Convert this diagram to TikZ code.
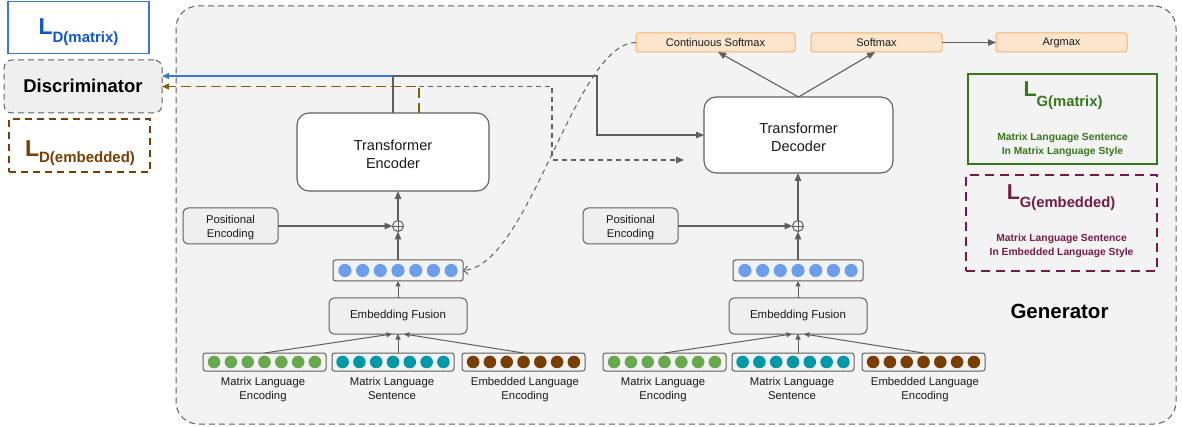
\documentclass[tikz,border=0pt]{standalone}
\usepackage{fontspec}
\setmainfont{Liberation Sans}
\usetikzlibrary{arrows.meta,calc}
\definecolor{lg}{HTML}{5F5F5F}
\definecolor{bgg}{HTML}{F3F3F3}
\definecolor{boxg}{HTML}{EFEFEF}
\definecolor{orf}{HTML}{FCE5CD}
\definecolor{orb}{HTML}{F6B26B}
\definecolor{blueT}{HTML}{1155CC}
\definecolor{blueB}{HTML}{3C78D8}
\definecolor{brownC}{HTML}{783F04}
\definecolor{oliveC}{HTML}{7F6000}
\definecolor{greenC}{HTML}{38761D}
\definecolor{purpC}{HTML}{741B47}
\definecolor{dblue}{HTML}{6D9EEB}
\definecolor{dgreen}{HTML}{6AA84F}
\definecolor{dteal}{HTML}{0097A7}
\definecolor{dbrown}{HTML}{783F04}
\definecolor{txtc}{HTML}{1A1A1A}
\tikzset{
 base/.style={inner sep=0pt, outer sep=0pt},
 tbox/.style={base, draw=lg, fill=white, rounded corners=12pt, line width=1.1pt},
 gbox/.style={base, draw=lg, fill=boxg, rounded corners=5pt, line width=1pt},
 obox/.style={base, draw=orb, fill=orf, rounded corners=2.5pt, line width=1pt, minimum height=19pt, font=\fontsize{11}{13}\selectfont, text=txtc},
 rowbox/.style={base, draw=lg, fill=bgg, rounded corners=2.5pt, line width=1pt},
 arr/.style={draw=lg, line width=1.1pt, -{Triangle[length=8pt,width=6.5pt]}},
 sarr/.style={draw=lg, line width=1pt, -{Triangle[length=5.5pt,width=5pt]}},
 txt/.style={base, align=center, text=txtc},
 small/.style={txt, font=\fontsize{11.3}{14}\selectfont},
 ttl/.style={base, anchor=base, font=\bfseries},
}
\begin{document}
\begin{tikzpicture}[x=1pt,y=-1pt]
\useasboundingbox (0,0) rectangle (1182,427);

% generator frame
\node[base, draw=lg, fill=bgg, dash pattern=on 6pt off 4pt, line width=1pt, rounded corners=22pt,
  minimum width=1000pt, minimum height=418pt] (gen) at (676,215) {};
\node[ttl, text=black, font=\bfseries\fontsize{20.5}{22}\selectfont] (gent) at (1059.5,319) {Generator};

% discriminator and losses
\node[base, draw=blueB, line width=1.2pt, minimum width=141pt, minimum height=52pt] (ldm) at (78.5,27.2) {};
\node[ttl, text=blueT] (ldmt) at (78.5,35) {\fontsize{23}{23}\selectfont L\raisebox{-8pt}{\fontsize{15}{15}\selectfont D(matrix)}};
\node[base, draw=lg, fill=boxg, dash pattern=on 6pt off 4pt, line width=1pt, rounded corners=8pt,
  minimum width=158pt, minimum height=53pt] (disc) at (83,86.5) {};
\node[ttl, text=black, font=\bfseries\fontsize{18.5}{20}\selectfont] (disct) at (83,92.7) {Discriminator};
\node[base, draw=brownC, dash pattern=on 7pt off 5pt, line width=1.2pt, minimum width=141pt, minimum height=53pt] (lde) at (79.5,145.5) {};
\node[ttl, text=brownC] (ldet) at (80,157) {\fontsize{23}{23}\selectfont L\raisebox{-6pt}{\fontsize{15}{15}\selectfont D(embedded)}};

% generator losses
\node[base, draw=greenC, line width=1.2pt, minimum width=189pt, minimum height=90pt] (lgm) at (1062.5,119) {};
\node[ttl, text=greenC] (lgmt) at (1063,96.7) {\fontsize{21.5}{21.5}\selectfont L\raisebox{-10pt}{\fontsize{14.8}{15}\selectfont G(matrix)}};
\node[txt, text=greenC, font=\bfseries\fontsize{10.3}{13.5}\selectfont] (lgmd) at (1062.5,145) {Matrix Language Sentence\\In Matrix Language Style};
\node[base, draw=purpC, dash pattern=on 9pt off 6pt, line width=1.2pt, minimum width=191pt, minimum height=96pt] (lge) at (1061.5,223) {};
\node[ttl, text=purpC] (lget) at (1061,199.3) {\fontsize{21.5}{21.5}\selectfont L\raisebox{-8.5pt}{\fontsize{14.8}{15}\selectfont G(embedded)}};
\node[txt, text=purpC, font=\bfseries\fontsize{10.3}{13.5}\selectfont] (lged) at (1061.5,246) {Matrix Language Sentence\\In Embedded Language Style};

% softmax row
\node[obox, minimum width=159pt] (cs) at (715.5,42.5) {Continuous Softmax};
\node[obox, minimum width=131pt] (sm) at (876.5,42.5) {Softmax};
\node[obox, minimum width=131pt] (am) at (1061.5,42.5) {Argmax};
\draw[arr] (sm) -- (am);

% transformers
\node[tbox, minimum width=192pt, minimum height=78pt] (enc) at (393,152) {};
\node[txt, font=\fontsize{14.5}{18.3}\selectfont] (enct) at (393,154) {Transformer\\Encoder};
\node[tbox, minimum width=189pt, minimum height=76pt] (dec) at (798.5,135) {};
\node[txt, font=\fontsize{14.5}{18.3}\selectfont] (dect) at (798.5,137) {Transformer\\Decoder};
\draw[arr] (dec.north) -- ([xshift=2.5pt]cs.south);
\draw[arr] (dec.north) -- ([xshift=-1.5pt]sm.south);

% encoder / decoder input stacks
\foreach \s/\n in {0/L,400/R}{
  \node[gbox, minimum width=95pt, minimum height=36pt] (pos\n) at (230.5+\s,226) {};
  \node[small] (post\n) at (230.5+\s,227.5) {Positional\\Encoding};
  \node[circle, draw=lg, line width=1pt, minimum size=11pt, inner sep=0pt, outer sep=0pt] (pl\n) at (398+\s,226) {};
  \draw[lg, line width=0.9pt] (pl\n.north) -- (pl\n.south) (pl\n.west) -- (pl\n.east);
  \node[rowbox, minimum width=130pt, minimum height=21pt] (emb\n) at (398+\s,270.5) {};
  \foreach \i in {-3,...,3}{\fill[dblue] ($(emb\n.center)+(\i*17.7,0)$) circle[radius=6.6];}
  \node[gbox, font=\fontsize{11.5}{14}\selectfont, text=txtc, minimum width=138pt, minimum height=36pt] (fus\n) at (398+\s,316) {Embedding Fusion};
  \node[rowbox, minimum width=123pt, minimum height=18pt] (gr\n) at (264.5+\s,362) {};
  \node[rowbox, minimum width=122pt, minimum height=18pt] (te\n) at (393+\s,362) {};
  \node[rowbox, minimum width=123pt, minimum height=18pt] (br\n) at (523.5+\s,362) {};
  \foreach \i in {-3,...,3}{
    \fill[dgreen] ($(gr\n.center)+(\i*16.8,0)$) circle[radius=6.3];
    \fill[dteal] ($(te\n.center)+(\i*16.8,0)$) circle[radius=6.3];
    \fill[dbrown] ($(br\n.center)+(\i*16.8,0)$) circle[radius=6.3];
  }
  \node[small] (grt\n) at (263+\s,389.5) {Matrix Language\\Encoding};
  \node[small] (tet\n) at (392+\s,389.5) {Matrix Language\\Sentence\vphantom{g}};
  \node[small] (brt\n) at (525+\s,389.5) {Embedded Language\\Encoding};
  \draw[sarr] (gr\n.north) -- ([xshift=-6pt]fus\n.south);
  \draw[sarr] (te\n.north -| fus\n.south) -- (fus\n.south);
  \draw[sarr] (br\n.north) -- ([xshift=6pt]fus\n.south);
  \draw[sarr] (fus\n.north) -- (emb\n.south);
  \draw[arr] (emb\n.south |- emb\n.north) -- (pl\n.south);
  \draw[arr] (pos\n.east) -- (pl\n.west);
}
\draw[arr] (plL.north) -- (plL.north |- enc.south);
\draw[arr] (plR.north) -- (plR.north |- dec.south);

% encoder outputs
\coordinate (j) at (393,76);
\coordinate (k) at (597,135);
\draw[lg, line width=1.1pt] (enc.north) -- (j);
\draw[draw=blueB, line width=1.1pt, -{Triangle[length=7pt,width=6pt]}] (j) -- (j -| disc.east);
\draw[arr] (j) -| (k) -- (k -| dec.west);
\coordinate (o1) at (419,86.5);
\coordinate (o2) at (552,86.5);
\coordinate (o3) at (552,160);
\coordinate (dend) at (684,160);
\draw[draw=oliveC, line width=1.1pt, dash pattern=on 10pt off 5pt, -{Triangle[length=7pt,width=6pt]}] (enc.north -| o1) -- (o1) -- (o1 -| disc.east);
\draw[draw=lg, line width=1.1pt, dash pattern=on 5pt off 4pt, -{Triangle[length=8pt,width=6.5pt]}] (o1) -- (o2) -- (o3) -- (dend);
\draw[draw=lg, line width=1pt, dash pattern=on 5pt off 4pt, -{Straight Barb[length=4pt,width=8pt]}] (cs.west) .. controls (575,42.5) and (530,265) .. (embL.east);
\end{tikzpicture}
\end{document}
